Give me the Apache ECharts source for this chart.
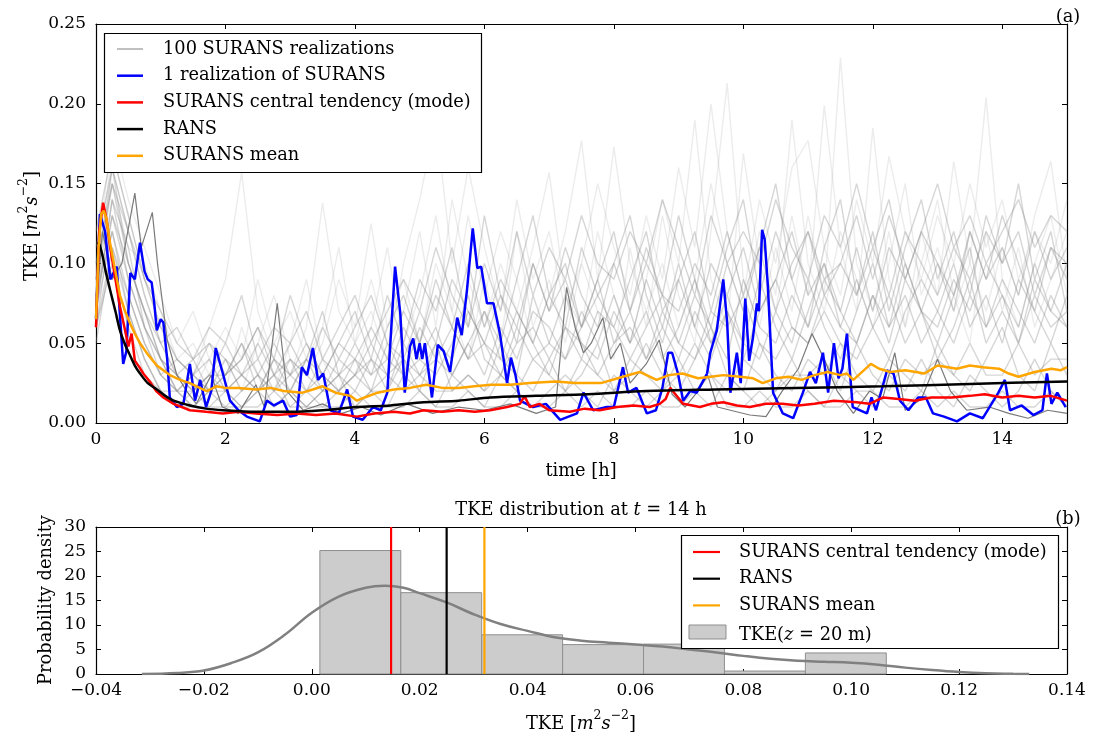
<!DOCTYPE html>
<html>
<head>
<meta charset="utf-8">
<script src="https://cdn.jsdelivr.net/npm/echarts@6.0.0/dist/echarts.min.js"></script>
<style>
html,body{margin:0;padding:0;background:#fff;}
#chart{width:1101px;height:737px;}
</style>
</head>
<body>
<div id="chart"></div>
<script>
// ---------------- DATA ----------------
// Panel (a): time axis [h] and TKE [m^2 s^-2]
const timeTicks = [0, 2, 4, 6, 8, 10, 12, 14];
const tkeTicks = [0.00, 0.05, 0.10, 0.15, 0.20, 0.25];

// shared time grid of the sketched grey realizations (every 0.25 h)
const greyT = [
  0,0.25,0.5,0.75, 1,1.25,1.5,1.75, 2,2.25,2.5,2.75, 3,3.25,3.5,3.75,
  4,4.25,4.5,4.75, 5,5.25,5.5,5.75, 6,6.25,6.5,6.75, 7,7.25,7.5,7.75,
  8,8.25,8.5,8.75, 9,9.25,9.5,9.75, 10,10.25,10.5,10.75, 11,11.25,11.5,11.75,
  12,12.25,12.5,12.75, 13,13.25,13.5,13.75, 14,14.25,14.5,14.75, 15
];
// tall, very light grey realizations (the spikes of the cloud)
const g01 = [.07,.16,.12,.08, .05,.03,.02,.04, .02,.06,.03,.02, .05,.09,.04,.02, .03,.06,.11,.05, .08,.13,.07,.04, .09,.05,.12,.06, .09,.05,.10,.07, .04,.11,.06,.13, .08,.05,.12,.213, .09,.06,.11,.07, .13,.08,.229,.10, .07,.12,.06,.10, .14,.08,.05,.12, .07,.11,.06,.09, .12];
const g02 = [.09,.17,.13,.09, .06,.04,.03,.06, .09,.157,.07,.04, .03,.06,.138,.07, .05,.09,.05,.07, .12,.06,.14,.09, .06,.10,.07,.11, .157,.08,.06,.12, .08,.05,.09,.14, .10,.19,.09,.06, .169,.10,.07,.13, .08,.199,.11,.07, .185,.09,.06,.12, .08,.164,.10,.07, .11,.08,.13,.164, .09];
const g03 = [.08,.15,.11,.10, .07,.04,.05,.03, .04,.02,.05,.08, .04,.03,.05,.09, .06,.125,.06,.09, .05,.10,.07,.13, .08,.12,.09,.05, .08,.12,.177,.09, .173,.10,.07,.10, .06,.09,.15,.10, .07,.12,.08,.19, .10,.07,.12,.09, .06,.10,.15,.08, .11,.07,.10,.204, .09,.06,.10,.13, .08];
const g08 = [.10,.18,.14,.11, .08,.05,.07,.04, .06,.04,.09,.05, .07,.04,.06,.11, .05,.07,.04,.10, .14,.19,.10,.16, .11,.07,.14,.09, .12,.07,.10,.15, .11,.08,.13,.09, .16,.11,.20,.12, .08,.14,.10,.16, .177,.11,.08,.14, .10,.167,.12,.09, .13,.10,.15,.11, .14,.09,.12,.10, .14];
// the body of the grey cloud
const g04 = [.06,.13,.10,.07, .04,.03,.02,.03, .05,.03,.02,.04, .03,.02,.04,.03, .02,.04,.03,.06, .04,.03,.05,.08, .04,.03,.06,.04, .05,.08,.05,.04, .07,.05,.09,.06, .04,.07,.05,.08, .05,.04,.07,.05, .09,.06,.04,.07, .10,.06,.08,.05, .07,.10,.06,.08, .05,.09,.07,.05, .08];
const g05 = [.07,.14,.09,.06, .04,.02,.03,.02, .03,.05,.03,.02, .03,.05,.03,.02, .04,.02,.05,.03, .06,.04,.03,.05, .07,.04,.03,.08, .05,.04,.06,.09, .05,.07,.04,.06, .10,.06,.04,.07, .05,.09,.06,.04, .07,.10,.06,.05, .08,.05,.09,.07, .05,.08,.11,.06, .08,.05,.09,.07, .10];
const g06 = [.05,.11,.08,.05, .03,.02,.01,.02, .01,.02,.03,.01, .02,.01,.02,.03, .01,.02,.01,.03, .02,.01,.03,.02, .01,.03,.02,.01, .02,.03,.02,.01, .03,.02,.01,.02, .04,.02,.01,.03, .02,.01,.02,.04, .02,.01,.03,.02, .01,.03,.02,.04, .02,.01,.03,.02, .01,.02,.04,.02, .01];
const g07 = [.08,.12,.07,.04, .02,.01,.02,.01, .02,.01,.02,.03, .01,.02,.01,.02, .03,.02,.02,.04, .02,.05,.02,.03, .02,.05,.03,.02, .04,.02,.03,.05, .02,.03,.05,.03, .02,.04,.06,.03, .02,.05,.03,.02, .04,.03,.05,.03, .02,.04,.03,.02, .05,.03,.02,.04, .06,.03,.02,.05, .03];
const g09 = [.09,.15,.12,.08, .05,.06,.04,.05, .03,.04,.06,.04, .08,.05,.03,.05, .07,.04,.08,.05, .09,.07,.11,.06, .13,.08,.05,.10, .07,.11,.08,.06, .10,.13,.08,.05, .09,.12,.07,.11, .14,.08,.12,.09, .06,.11,.14,.08, .12,.07,.11,.14, .09,.12,.08,.13, .10,.15,.09,.12, .07];
const g10 = [.06,.10,.06,.03, .02,.01,.01,.01, .01,.01,.01,.02, .01,.01,.01,.01, .02,.01,.01,.01, .02,.01,.01,.02, .01,.01,.02,.01, .01,.02,.01,.02, .01,.01,.02,.01, .01,.02,.03,.01, .01,.02,.01,.01, .02,.01,.01,.02, .02,.01,.01,.02, .01,.02,.01,.01, .02,.01,.01,.02, .01];
const g11 = [.11,.16,.10,.07, .05,.03,.04,.02, .03,.05,.02,.04, .02,.04,.07,.03, .04,.03,.06,.08, .05,.09,.06,.04, .07,.05,.09,.13, .08,.10,.06,.09, .12,.07,.10,.08, .13,.09,.06,.10, .07,.11,.15,.09, .12,.08,.10,.13, .09,.13,.10,.07, .10,.07,.12,.09, .13,.10,.07,.11, .09];
const g12 = [.07,.14,.11,.06, .04,.02,.02,.03, .02,.03,.04,.02, .04,.03,.02,.04, .03,.05,.03,.04, .03,.05,.04,.07, .05,.04,.07,.05, .03,.06,.04,.07, .06,.04,.06,.08, .05,.08,.06,.04, .09,.06,.05,.08, .06,.09,.07,.05, .08,.06,.10,.07, .06,.09,.07,.10, .08,.06,.10,.07, .06];
const g13 = [.12,.17,.13,.09, .06,.04,.03,.05, .04,.03,.05,.03, .02,.04,.03,.05, .04,.06,.04,.07, .05,.08,.06,.10, .06,.09,.07,.05, .08,.06,.11,.08, .06,.09,.12,.07, .09,.06,.10,.08, .11,.07,.09,.12, .08,.10,.07,.11, .07,.11,.09,.12, .10,.08,.12,.09, .11,.08,.12,.09, .11];
const g14 = [.08,.13,.09,.06, .03,.04,.03,.02, .04,.02,.03,.05, .03,.04,.02,.03, .05,.03,.04,.03, .04,.06,.03,.05, .03,.06,.04,.07, .06,.04,.07,.05, .08,.05,.07,.04, .06,.09,.05,.07, .04,.07,.09,.06, .05,.08,.06,.09, .06,.04,.07,.09, .07,.05,.08,.06, .09,.07,.05,.08, .06];
const g15 = [.09,.16,.12,.09, .07,.05,.04,.06, .05,.08,.04,.06, .05,.07,.04,.06, .08,.05,.07,.09, .07,.11,.08,.06, .10,.07,.12,.08, .11,.09,.13,.10, .09,.12,.10,.14, .11,.08,.13,.10, .12,.10,.14,.11, .09,.13,.11,.15, .11,.14,.09,.12, .15,.11,.13,.10, .12,.14,.11,.13, .12];
const g16 = [.07,.12,.08,.05, .03,.02,.03,.04, .02,.03,.02,.03, .04,.02,.03,.02, .03,.04,.02,.05, .03,.04,.06,.04, .05,.03,.05,.06, .04,.06,.05,.03, .05,.06,.04,.07, .05,.04,.07,.06, .08,.05,.04,.06, .05,.07,.05,.04, .06,.08,.05,.07, .04,.06,.09,.05, .07,.05,.08,.06, .07];
const g17 = [.10,.15,.10,.07, .04,.03,.02,.03, .03,.04,.06,.03, .05,.03,.06,.04, .06,.08,.05,.04, .07,.05,.09,.07, .05,.08,.06,.10, .07,.09,.06,.08, .10,.07,.11,.08, .07,.10,.08,.12, .08,.11,.07,.10, .12,.09,.10,.08, .11,.08,.12,.10, .08,.11,.09,.12, .10,.12,.08,.11, .10];
const g18 = [.06,.11,.07,.04, .02,.02,.01,.02, .02,.01,.02,.01, .02,.01,.02,.02, .01,.02,.03,.02, .03,.02,.02,.03, .02,.03,.02,.04, .03,.02,.04,.03, .02,.04,.03,.02, .03,.05,.03,.02, .04,.03,.02,.03, .03,.04,.02,.05, .03,.02,.04,.03, .04,.03,.05,.03, .03,.05,.03,.04, .04];
const greyTall = [g01, g02, g03, g08];
const greyBody = [g04, g05, g06, g07, g09, g10, g11, g12, g13, g14, g15, g16, g17, g18];

// the one darker grey realization [t, TKE]
const darkRun = [[0,0.07],[0.1,0.12],[0.25,0.09],[0.4,0.10],[0.6,0.144],[0.7,0.11],[0.87,0.132],[0.95,0.10],[1.1,0.052],[1.25,0.03],[1.4,0.02],[1.55,0.012],[1.78,0.03],[1.95,0.01],[2.2,0.006],[2.47,0.024],[2.6,0.01],[2.8,0.075],[2.95,0.02],[3.2,0.008],[3.5,0.012],[3.8,0.006],[4.1,0.01],[4.4,0.005],[4.8,0.012],[5.2,0.006],[5.6,0.01],[6.0,0.008],[6.4,0.012],[6.8,0.006],[7.1,0.01],[7.27,0.085],[7.4,0.06],[7.53,0.044],[7.65,0.05],[7.83,0.066],[7.95,0.04],[8.1,0.05],[8.25,0.025],[8.5,0.037],[8.7,0.052],[8.9,0.018],[9.1,0.01],[9.3,0.02],[9.45,0.03],[9.6,0.01],[9.8,0.008],[10.1,0.005],[10.35,0.004],[10.6,0.02],[10.85,0.034],[11.06,0.056],[11.25,0.04],[11.45,0.02],[11.7,0.006],[11.95,0.02],[12.15,0.015],[12.34,0.044],[12.5,0.008],[12.75,0.015],[13.0,0.04],[13.2,0.02],[13.45,0.008],[13.8,0.01],[14.1,0.006],[14.4,0.003],[14.7,0.008],[15,0.006]];

// 1 realization of SURANS (blue) [t, TKE]
const blueRun = [[0,0.065],[0.06,0.131],[0.14,0.12],[0.22,0.09],[0.32,0.098],[0.42,0.037],[0.47,0.045],[0.53,0.094],[0.6,0.09],[0.68,0.113],[0.75,0.095],[0.8,0.09],[0.86,0.088],[0.9,0.075],[0.94,0.058],[1.0,0.065],[1.04,0.063],[1.1,0.04],[1.14,0.016],[1.25,0.010],[1.35,0.012],[1.45,0.037],[1.53,0.014],[1.61,0.027],[1.7,0.01],[1.78,0.02],[1.85,0.047],[1.96,0.031],[2.07,0.014],[2.2,0.008],[2.33,0.004],[2.53,0.001],[2.64,0.014],[2.75,0.011],[2.89,0.014],[3.0,0.004],[3.1,0.005],[3.18,0.035],[3.26,0.03],[3.35,0.047],[3.43,0.027],[3.51,0.031],[3.62,0.008],[3.75,0.006],[3.88,0.021],[3.97,0.004],[4.12,0.002],[4.28,0.01],[4.4,0.008],[4.5,0.019],[4.62,0.098],[4.7,0.069],[4.77,0.019],[4.85,0.048],[4.9,0.053],[4.95,0.04],[5.0,0.05],[5.04,0.04],[5.08,0.05],[5.19,0.016],[5.28,0.049],[5.37,0.045],[5.47,0.032],[5.58,0.066],[5.65,0.055],[5.73,0.083],[5.82,0.122],[5.89,0.097],[5.95,0.098],[6.04,0.075],[6.14,0.075],[6.24,0.056],[6.35,0.025],[6.41,0.041],[6.48,0.03],[6.55,0.014],[6.75,0.01],[6.95,0.012],[7.17,0.002],[7.3,0.004],[7.43,0.006],[7.53,0.019],[7.68,0.008],[7.89,0.01],[8.0,0.01],[8.14,0.035],[8.22,0.019],[8.35,0.022],[8.51,0.006],[8.65,0.008],[8.75,0.022],[8.84,0.044],[8.9,0.044],[8.99,0.031],[9.07,0.014],[9.18,0.02],[9.28,0.019],[9.44,0.031],[9.49,0.044],[9.59,0.058],[9.69,0.09],[9.75,0.063],[9.80,0.019],[9.90,0.044],[9.96,0.025],[10.03,0.078],[10.09,0.039],[10.15,0.054],[10.21,0.075],[10.24,0.07],[10.29,0.121],[10.33,0.115],[10.38,0.085],[10.46,0.019],[10.61,0.006],[10.77,0.003],[10.92,0.019],[11.03,0.032],[11.12,0.025],[11.23,0.044],[11.31,0.019],[11.40,0.050],[11.47,0.028],[11.53,0.034],[11.60,0.056],[11.69,0.010],[11.91,0.006],[11.98,0.016],[12.05,0.008],[12.22,0.033],[12.32,0.031],[12.42,0.014],[12.55,0.008],[12.70,0.016],[12.82,0.016],[12.93,0.006],[13.10,0.004],[13.30,0.001],[13.50,0.006],[13.70,0.003],[13.94,0.019],[14.04,0.027],[14.12,0.008],[14.30,0.011],[14.48,0.005],[14.62,0.008],[14.69,0.031],[14.76,0.012],[14.85,0.019],[14.98,0.01]];

// SURANS central tendency (mode), red
const modeRun = [[0,0.06],[0.05,0.12],[0.11,0.138],[0.16,0.128],[0.22,0.11],[0.3,0.09],[0.37,0.073],[0.45,0.058],[0.5,0.048],[0.55,0.056],[0.6,0.039],[0.67,0.035],[0.73,0.031],[0.83,0.026],[0.93,0.02],[1.04,0.016],[1.2,0.012],[1.45,0.008],[1.7,0.007],[1.96,0.006],[2.2,0.007],[2.47,0.006],[2.8,0.005],[3.1,0.006],[3.4,0.005],[3.7,0.006],[4.03,0.004],[4.3,0.006],[4.6,0.007],[4.85,0.006],[5.06,0.008],[5.35,0.007],[5.6,0.008],[5.85,0.007],[6.09,0.008],[6.35,0.01],[6.55,0.012],[6.62,0.017],[6.7,0.01],[6.85,0.012],[7.0,0.008],[7.32,0.007],[7.55,0.009],[7.78,0.008],[8.05,0.01],[8.3,0.011],[8.55,0.01],[8.71,0.012],[8.8,0.015],[8.87,0.022],[8.95,0.018],[9.07,0.012],[9.33,0.01],[9.5,0.012],[9.69,0.013],[9.9,0.011],[10.1,0.01],[10.35,0.012],[10.6,0.012],[10.85,0.011],[11.1,0.012],[11.4,0.014],[11.75,0.013],[11.95,0.012],[12.16,0.016],[12.4,0.015],[12.65,0.014],[12.9,0.016],[13.22,0.016],[13.5,0.017],[13.73,0.018],[14.0,0.016],[14.25,0.017],[14.5,0.016],[14.75,0.017],[15,0.014]];

// RANS, black
const ransRun = [[0.02,0.113],[0.05,0.112],[0.1,0.105],[0.15,0.095],[0.22,0.083],[0.3,0.07],[0.37,0.058],[0.45,0.049],[0.53,0.042],[0.6,0.036],[0.68,0.031],[0.8,0.025],[0.94,0.021],[1.07,0.017],[1.2,0.014],[1.45,0.011],[1.7,0.009],[1.96,0.008],[2.47,0.007],[2.99,0.007],[3.5,0.008],[4.03,0.01],[4.55,0.011],[5.06,0.013],[5.6,0.014],[6.09,0.016],[6.8,0.017],[7.6,0.018],[8.5,0.02],[9.58,0.021],[10.8,0.022],[12.15,0.023],[13.5,0.0245],[15,0.026]];

// SURANS mean, orange
const meanRun = [[0,0.065],[0.04,0.11],[0.08,0.131],[0.12,0.133],[0.16,0.128],[0.22,0.112],[0.3,0.095],[0.37,0.08],[0.45,0.07],[0.53,0.062],[0.6,0.056],[0.68,0.05],[0.8,0.043],[0.94,0.036],[1.04,0.033],[1.14,0.03],[1.3,0.027],[1.45,0.025],[1.6,0.022],[1.71,0.02],[1.86,0.023],[2.0,0.022],[2.2,0.022],[2.47,0.021],[2.7,0.022],[2.9,0.02],[3.19,0.019],[3.35,0.021],[3.5,0.023],[3.7,0.019],[3.93,0.017],[4.03,0.014],[4.15,0.016],[4.35,0.019],[4.6,0.021],[4.85,0.022],[5.1,0.024],[5.35,0.022],[5.6,0.022],[5.85,0.023],[6.1,0.024],[6.4,0.024],[6.7,0.025],[7.1,0.026],[7.4,0.025],[7.8,0.025],[8.14,0.029],[8.4,0.032],[8.66,0.027],[8.85,0.03],[9.06,0.031],[9.3,0.028],[9.5,0.029],[9.69,0.03],[9.95,0.029],[10.15,0.028],[10.3,0.025],[10.5,0.028],[10.7,0.029],[10.9,0.027],[11.1,0.03],[11.3,0.032],[11.5,0.03],[11.6,0.031],[11.7,0.027],[11.97,0.037],[12.1,0.034],[12.27,0.032],[12.5,0.033],[12.8,0.031],[13.0,0.036],[13.3,0.034],[13.5,0.036],[13.7,0.035],[13.95,0.034],[14.1,0.031],[14.25,0.029],[14.5,0.032],[14.76,0.034],[14.9,0.033],[15,0.035]];

// Panel (b): distribution at t = 14 h
const binEdges = [0.0015, 0.0165, 0.0315, 0.0465, 0.0615, 0.0765, 0.0915, 0.1065];
const binHeights = [25.2, 16.6, 8.0, 6.0, 6.1, 0.6, 4.3];
const kdeCurve = [[-0.0315,0],[-0.025,0.2],[-0.02,0.7],[-0.015,2.2],[-0.01,4.4],[-0.005,8.0],[0,12.5],[0.005,15.8],[0.01,17.6],[0.0135,18.0],[0.017,17.6],[0.02,16.5],[0.025,14.6],[0.03,12.2],[0.035,10.2],[0.04,8.8],[0.045,7.5],[0.05,6.8],[0.055,6.4],[0.06,6.0],[0.065,5.6],[0.07,5.0],[0.075,4.4],[0.08,3.7],[0.085,3.1],[0.09,2.7],[0.095,2.5],[0.10,2.3],[0.105,1.9],[0.11,1.3],[0.115,0.8],[0.12,0.4],[0.125,0.15],[0.13,0.04],[0.133,0]];
const modeAt14 = 0.0147;
const ransAt14 = 0.025;
const meanAt14 = 0.032;
const tkeBinTicks = [-0.04, -0.02, 0.00, 0.02, 0.04, 0.06, 0.08, 0.10, 0.12, 0.14];
const densityTicks = [0, 5, 10, 15, 20, 25, 30];

// ---------------- CHART ----------------
const FONT = 'DejaVu Serif';
const FS = 17;     // tick labels
const FT = 17.8;   // legend / titles
const chart = echarts.init(document.getElementById('chart'), null, {renderer: 'canvas'});

const lblStyle = {fontFamily: FONT, fontSize: FS, color: '#000'};
const tickStyle = {show: true, inside: true, length: 5, lineStyle: {color: '#000', width: 1}};
const lineAx = {show: true, onZero: false, lineStyle: {color: '#000', width: 1.2}};

function fmtSigned(v) {
  if (Math.abs(v) < 1e-9) return '0.00';
  return (v < 0 ? '\u2212' : '') + Math.abs(v).toFixed(2);
}
function xAx(grid, pos, min, max, interval, showLabel, fmt) {
  return {
    type: 'value', gridIndex: grid, position: pos, min: min, max: max, interval: interval,
    axisLine: lineAx, axisTick: tickStyle, splitLine: {show: false},
    axisLabel: Object.assign({show: showLabel, margin: 8, formatter: fmt}, lblStyle)
  };
}
function yAx(grid, pos, min, max, interval, showLabel, fmt) {
  return {
    type: 'value', gridIndex: grid, position: pos, min: min, max: max, interval: interval,
    axisLine: lineAx, axisTick: tickStyle, splitLine: {show: false},
    axisLabel: Object.assign({show: showLabel, margin: 10, formatter: fmt}, lblStyle)
  };
}
const timeFmt = v => (timeTicks.indexOf(Math.round(v * 1000) / 1000) >= 0 ? String(v) : '');
const tkeFmt = v => v.toFixed(2);
const binFmt = v => fmtSigned(v);
const densFmt = v => String(Math.round(v));

const series = [];
function greySeries(run, color) {
  return {
    type: 'line', xAxisIndex: 0, yAxisIndex: 0, silent: true, symbol: 'none',
    data: greyT.map((t, i) => [t, run[i]]),
    lineStyle: {color: color, width: 1.4}, z: 1
  };
}
greyTall.forEach(run => series.push(greySeries(run, 'rgba(150,150,150,0.18)')));
greyBody.forEach(run => series.push(greySeries(run, 'rgba(135,135,135,0.34)')));
series.push({type: 'line', xAxisIndex: 0, yAxisIndex: 0, symbol: 'none', data: darkRun,
  lineStyle: {color: '#7a7a7a', width: 1.2}, z: 2});
series.push({type: 'line', xAxisIndex: 0, yAxisIndex: 0, symbol: 'none', data: blueRun,
  lineStyle: {color: '#0000ff', width: 2.5}, z: 3});
series.push({type: 'line', xAxisIndex: 0, yAxisIndex: 0, symbol: 'none', data: modeRun,
  lineStyle: {color: '#ff0000', width: 2.5}, z: 4});
series.push({type: 'line', xAxisIndex: 0, yAxisIndex: 0, symbol: 'none', data: ransRun, smooth: 0.3,
  lineStyle: {color: '#000000', width: 2.5}, z: 5});
series.push({type: 'line', xAxisIndex: 0, yAxisIndex: 0, symbol: 'none', data: meanRun,
  lineStyle: {color: '#ffa500', width: 2.5}, z: 6});

// histogram
const histData = binHeights.map((h, i) => [binEdges[i], binEdges[i + 1], h]);
series.push({
  type: 'custom', xAxisIndex: 2, yAxisIndex: 2, data: histData, z: 2,
  encode: {x: [0, 1], y: 2},
  renderItem: function (params, api) {
    const p0 = api.coord([api.value(0), api.value(2)]);
    const p1 = api.coord([api.value(1), 0]);
    return {type: 'rect', shape: {x: p0[0], y: p0[1], width: p1[0] - p0[0], height: p1[1] - p0[1]},
      style: {fill: '#cccccc', stroke: '#8f8f8f', lineWidth: 1}};
  }
});
series.push({type: 'line', xAxisIndex: 2, yAxisIndex: 2, symbol: 'none', data: kdeCurve, smooth: 0.4,
  lineStyle: {color: '#808080', width: 2.5}, z: 3});
[[modeAt14, '#ff0000'], [ransAt14, '#000000'], [meanAt14, '#ffa500']].forEach(([x, c], k) => {
  series.push({type: 'line', xAxisIndex: 2, yAxisIndex: 2, symbol: 'none',
    data: [[x, 0], [x, 30]], lineStyle: {color: c, width: 2.2}, z: 4 + k});
});

// ---------- graphic: legends, titles, labels ----------
const G = [];
function txt(x, y, rich, text, opts) {
  return Object.assign({
    type: 'text', x: x, y: y, z: 200, silent: true,
    style: Object.assign({text: text, rich: rich, fill: '#000', font: FT + 'px "' + FONT + '"',
      align: 'left', verticalAlign: 'middle', textAlign: 'left', textVerticalAlign: 'middle'}, opts && opts.style || {})
  }, opts && opts.el || {});
}
const R = {
  n: {fontFamily: FONT, fontSize: FT, fill: '#000', color: '#000', verticalAlign: 'bottom', lineHeight: 24},
  i: {fontFamily: FONT, fontSize: FT, fontStyle: 'italic', fill: '#000', color: '#000', verticalAlign: 'bottom', lineHeight: 24},
  s: {fontFamily: FONT, fontSize: 12.5, fill: '#000', color: '#000', verticalAlign: 'top', lineHeight: 24}
};

// legend (a)
G.push({type: 'rect', z: 150, shape: {x: 104.5, y: 33.5, width: 377, height: 139},
  style: {fill: '#ffffff', stroke: '#000000', lineWidth: 1.2}});
const legA = [
  ['100 SURANS realizations', '#808080', 1],
  ['1 realization of SURANS', '#0000ff', 2.5],
  ['SURANS central tendency (mode)', '#ff0000', 2.5],
  ['RANS', '#000000', 2.5],
  ['SURANS mean', '#ffa500', 2.5]
];
legA.forEach(([label, c, w], k) => {
  const y = 49 + k * 26.7;
  G.push({type: 'line', z: 160, shape: {x1: 117, y1: y, x2: 143, y2: y}, style: {stroke: c, lineWidth: w}});
  G.push(txt(163, y, null, label));
});

// legend (b)
G.push({type: 'rect', z: 150, shape: {x: 681.5, y: 535.5, width: 377, height: 113},
  style: {fill: '#ffffff', stroke: '#000000', lineWidth: 1.2}});
const legB = [
  ['SURANS central tendency (mode)', '#ff0000'],
  ['RANS', '#000000'],
  ['SURANS mean', '#ffa500']
];
legB.forEach(([label, c], k) => {
  const y = 552 + k * 26.7;
  G.push({type: 'line', z: 160, shape: {x1: 693, y1: y, x2: 720, y2: y}, style: {stroke: c, lineWidth: 2.2}});
  G.push(txt(739, y, null, label));
});
G.push({type: 'rect', z: 160, shape: {x: 689, y: 625, width: 37, height: 14},
  style: {fill: '#cccccc', stroke: '#8f8f8f', lineWidth: 1}});
G.push(txt(739, 632, R, '{n|TKE(}{i|z}{n| = 20 m)}'));

// axis titles and panel labels
const C = {style: {align: 'center', textAlign: 'center'}};
G.push(txt(581, 468, R, '{n|time [h]}', C));
G.push(txt(581, 721, R, '{n|TKE [}{i|m}{s|2}{i|s}{s|\u22122}{n|]}', C));
G.push(txt(29, 226, R, '{n|TKE [}{i|m}{s|2}{i|s}{s|\u22122}{n|]}', {style: C.style, el: {rotation: Math.PI / 2}}));
G.push(txt(43, 600, R, '{n|Probability density}', {style: C.style, el: {rotation: Math.PI / 2}}));
G.push(txt(581, 507, R, '{n|TKE distribution at }{i|t}{n| = 14 h}', C));
G.push(txt(1068, 14, R, '{n|(a)}', C));
G.push(txt(1068, 516, R, '{n|(b)}', C));

chart.setOption({
  animation: false,
  backgroundColor: '#ffffff',
  grid: [
    {left: 96, top: 24, width: 971, height: 399, containLabel: false},
    {left: 96, top: 527, width: 971, height: 147, containLabel: false}
  ],
  xAxis: [
    xAx(0, 'bottom', 0, 15, 2, true, timeFmt),
    xAx(0, 'top', 0, 15, 2, false),
    xAx(1, 'bottom', -0.04, 0.14, 0.02, true, binFmt),
    xAx(1, 'top', -0.04, 0.14, 0.02, false)
  ],
  yAxis: [
    yAx(0, 'left', 0, 0.25, 0.05, true, tkeFmt),
    yAx(0, 'right', 0, 0.25, 0.05, false),
    yAx(1, 'left', 0, 30, 5, true, densFmt),
    yAx(1, 'right', 0, 30, 5, false)
  ],
  series: series,
  graphic: {elements: G}
});
</script>
</body>
</html>
